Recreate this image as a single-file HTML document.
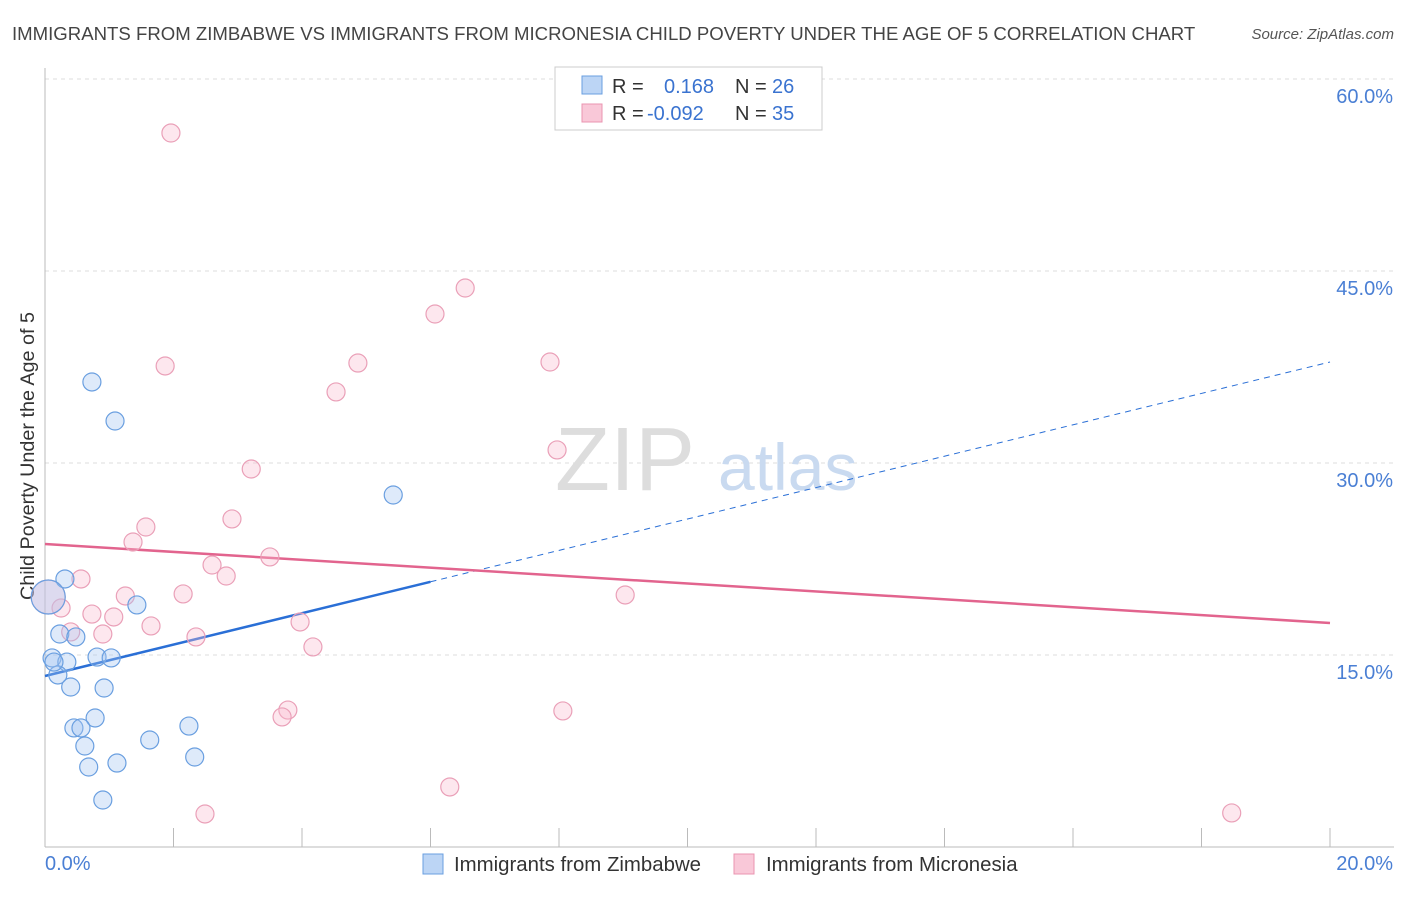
<!DOCTYPE html>
<html><head><meta charset="utf-8"><style>
body{margin:0;background:#fff;font-family:"Liberation Sans",sans-serif;}
svg text{font-family:"Liberation Sans",sans-serif;}
</style></head><body>
<svg id="chart" width="1406" height="892" viewBox="0 0 1406 892" xmlns="http://www.w3.org/2000/svg">
<text x="12" y="40" font-size="18.6" fill="#444">IMMIGRANTS FROM ZIMBABWE VS IMMIGRANTS FROM MICRONESIA CHILD POVERTY UNDER THE AGE OF 5 CORRELATION CHART</text>
<text x="1394" y="39" font-size="15" fill="#555" font-style="italic" text-anchor="end">Source: ZipAtlas.com</text>
<text transform="translate(34,456) rotate(-90)" font-size="19.8" fill="#333" text-anchor="middle">Child Poverty Under the Age of 5</text>
<g id="grid"></g>
<g id="axes"></g>
<text x="555" y="490" font-size="90" fill="#ddd" font-family="Liberation Serif">ZIP</text>
<text x="718" y="490" font-size="66" fill="#c9daf0">atlas</text>
<g id="lines"></g>
<g id="points"></g>
<g>
<rect x="555" y="67" width="267" height="63" fill="#fff" stroke="#ccc"/>
<rect x="582" y="76" width="20" height="18" fill="#bcd5f5" stroke="#6a9fe0"/>
<rect x="582" y="104" width="20" height="18" fill="#f9c8d8" stroke="#ea94b0"/>
<text x="612" y="93" font-size="20" fill="#333">R =</text>
<text x="664" y="93" font-size="20" fill="#3a73d0">0.168</text>
<text x="735" y="93" font-size="20" fill="#333">N =</text>
<text x="772" y="93" font-size="20" fill="#3a73d0">26</text>
<text x="612" y="120" font-size="20" fill="#333">R =</text>
<text x="647" y="120" font-size="20" fill="#3a73d0">-0.092</text>
<text x="735" y="120" font-size="20" fill="#333">N =</text>
<text x="772" y="120" font-size="20" fill="#3a73d0">35</text>
</g>
<g>
<rect x="423" y="854" width="20" height="20" fill="#bcd5f5" stroke="#6a9fe0"/>
<text x="454" y="871" font-size="20.4" fill="#333">Immigrants from Zimbabwe</text>
<rect x="734" y="854" width="20" height="20" fill="#f9c8d8" stroke="#ea94b0"/>
<text x="766" y="871" font-size="20.4" fill="#333">Immigrants from Micronesia</text>
</g>
</svg>
<script>
const xTicks=[0,2,4,6,8,10,12,14,16,18,20];
const yTicks=[15,30,45,60];
const yTickLabels=["15.0%","30.0%","45.0%","60.0%"];
const xEndLabels=["0.0%","20.0%"];
const zimX=[0.73,1.09,5.42,0.31,1.43,0.23,0.48,0.11,0.34,0.81,1.03,0.20,0.40,0.92,0.78,0.45,0.56,0.62,1.63,2.24,0.68,1.12,2.33,0.90,0.05,0.14];
const zimY=[36.33,33.28,27.5,20.94,18.91,16.64,16.41,14.77,14.45,14.84,14.77,13.44,12.5,12.42,10.08,9.30,9.30,7.89,8.36,9.45,6.25,6.56,7.03,3.67,19.53,14.45];
const micX=[1.96,6.54,6.07,1.87,4.87,7.86,4.53,7.97,3.21,2.91,1.57,1.37,3.50,0.56,2.60,2.82,1.25,2.15,9.03,0.25,0.73,1.07,1.65,3.97,0.40,0.90,2.35,4.17,3.78,3.69,8.06,6.30,2.49,18.47,0.05];
const micY=[55.78,43.67,41.64,37.58,37.81,37.89,35.55,31.02,29.53,25.63,25.0,23.83,22.66,20.94,22.03,21.17,19.61,19.77,19.69,18.67,18.20,17.97,17.27,17.58,16.80,16.64,16.41,15.63,10.70,10.16,10.63,4.69,2.58,2.66,19.53];
const zimTrend=[13.36,37.89];
const micTrend=[23.67,17.5];
const zimSolidEnd=6;
const NS="http://www.w3.org/2000/svg";
const sx=v=>45+v*64.25, sy=v=>847-v*12.8;
function mk(tag,attrs,parent){const e=document.createElementNS(NS,tag);for(const k in attrs)e.setAttribute(k,attrs[k]);parent.appendChild(e);return e;}
const grid=document.getElementById('grid'),axes=document.getElementById('axes'),lines=document.getElementById('lines'),pts=document.getElementById('points');
yTicks.forEach((t,i)=>{
 const l=mk('line',{x1:45,x2:1394,y1:sy(t),y2:sy(t),stroke:'#ddd','stroke-dasharray':'4,4'},grid);
 
 
 const tx=mk('text',{x:1393,y:sy(t)+24,'font-size':20,fill:'#4a7fd4','text-anchor':'end'},axes);
 tx.textContent=yTickLabels[i];
 
 
});
const ax=mk('line',{x1:45,x2:45,y1:68,y2:847,stroke:'#bbb'},axes);


const bx=mk('line',{x1:45,x2:1394,y1:847,y2:847,stroke:'#bbb'},axes);


xTicks.forEach(t=>{
 const l=mk('line',{x1:sx(t),x2:sx(t),y1:828,y2:847,stroke:'#bbb'},axes);
 
 
});
const xl0=mk('text',{x:45,y:870,'font-size':20,fill:'#4a7fd4'},axes);xl0.textContent=xEndLabels[0];


const xl1=mk('text',{x:1393,y:870,'font-size':20,fill:'#4a7fd4','text-anchor':'end'},axes);xl1.textContent=xEndLabels[1];


function drawPts(X,Y,fill,stroke,name){X.forEach((x,i)=>{
 const big=(x<0.1);
 const c=mk('circle',{cx:sx(x),cy:sy(Y[i]),r:big?17:9,fill:fill,stroke:stroke,'stroke-width':1.2},pts);
 
 
});}
drawPts(micX,micY,'rgba(248,185,205,0.35)','#eaa0b8','point-micronesia');
drawPts(zimX,zimY,'rgba(160,195,240,0.35)','#6a9fe0','point-zimbabwe');
const zy=x=>zimTrend[0]+(zimTrend[1]-zimTrend[0])*x/20;
const l1=mk('line',{x1:sx(0),y1:sy(zy(0)),x2:sx(zimSolidEnd),y2:sy(zy(zimSolidEnd)),stroke:'#2a6fd6','stroke-width':2.5},lines);


const l2=mk('line',{x1:sx(zimSolidEnd),y1:sy(zy(zimSolidEnd)),x2:sx(20),y2:sy(zy(20)),stroke:'#2a6fd6','stroke-width':1,'stroke-dasharray':'6,5'},lines);


const l3=mk('line',{x1:sx(0),y1:sy(micTrend[0]),x2:sx(20),y2:sy(micTrend[1]),stroke:'#e2648e','stroke-width':2.5},lines);


</script>
</body></html>
